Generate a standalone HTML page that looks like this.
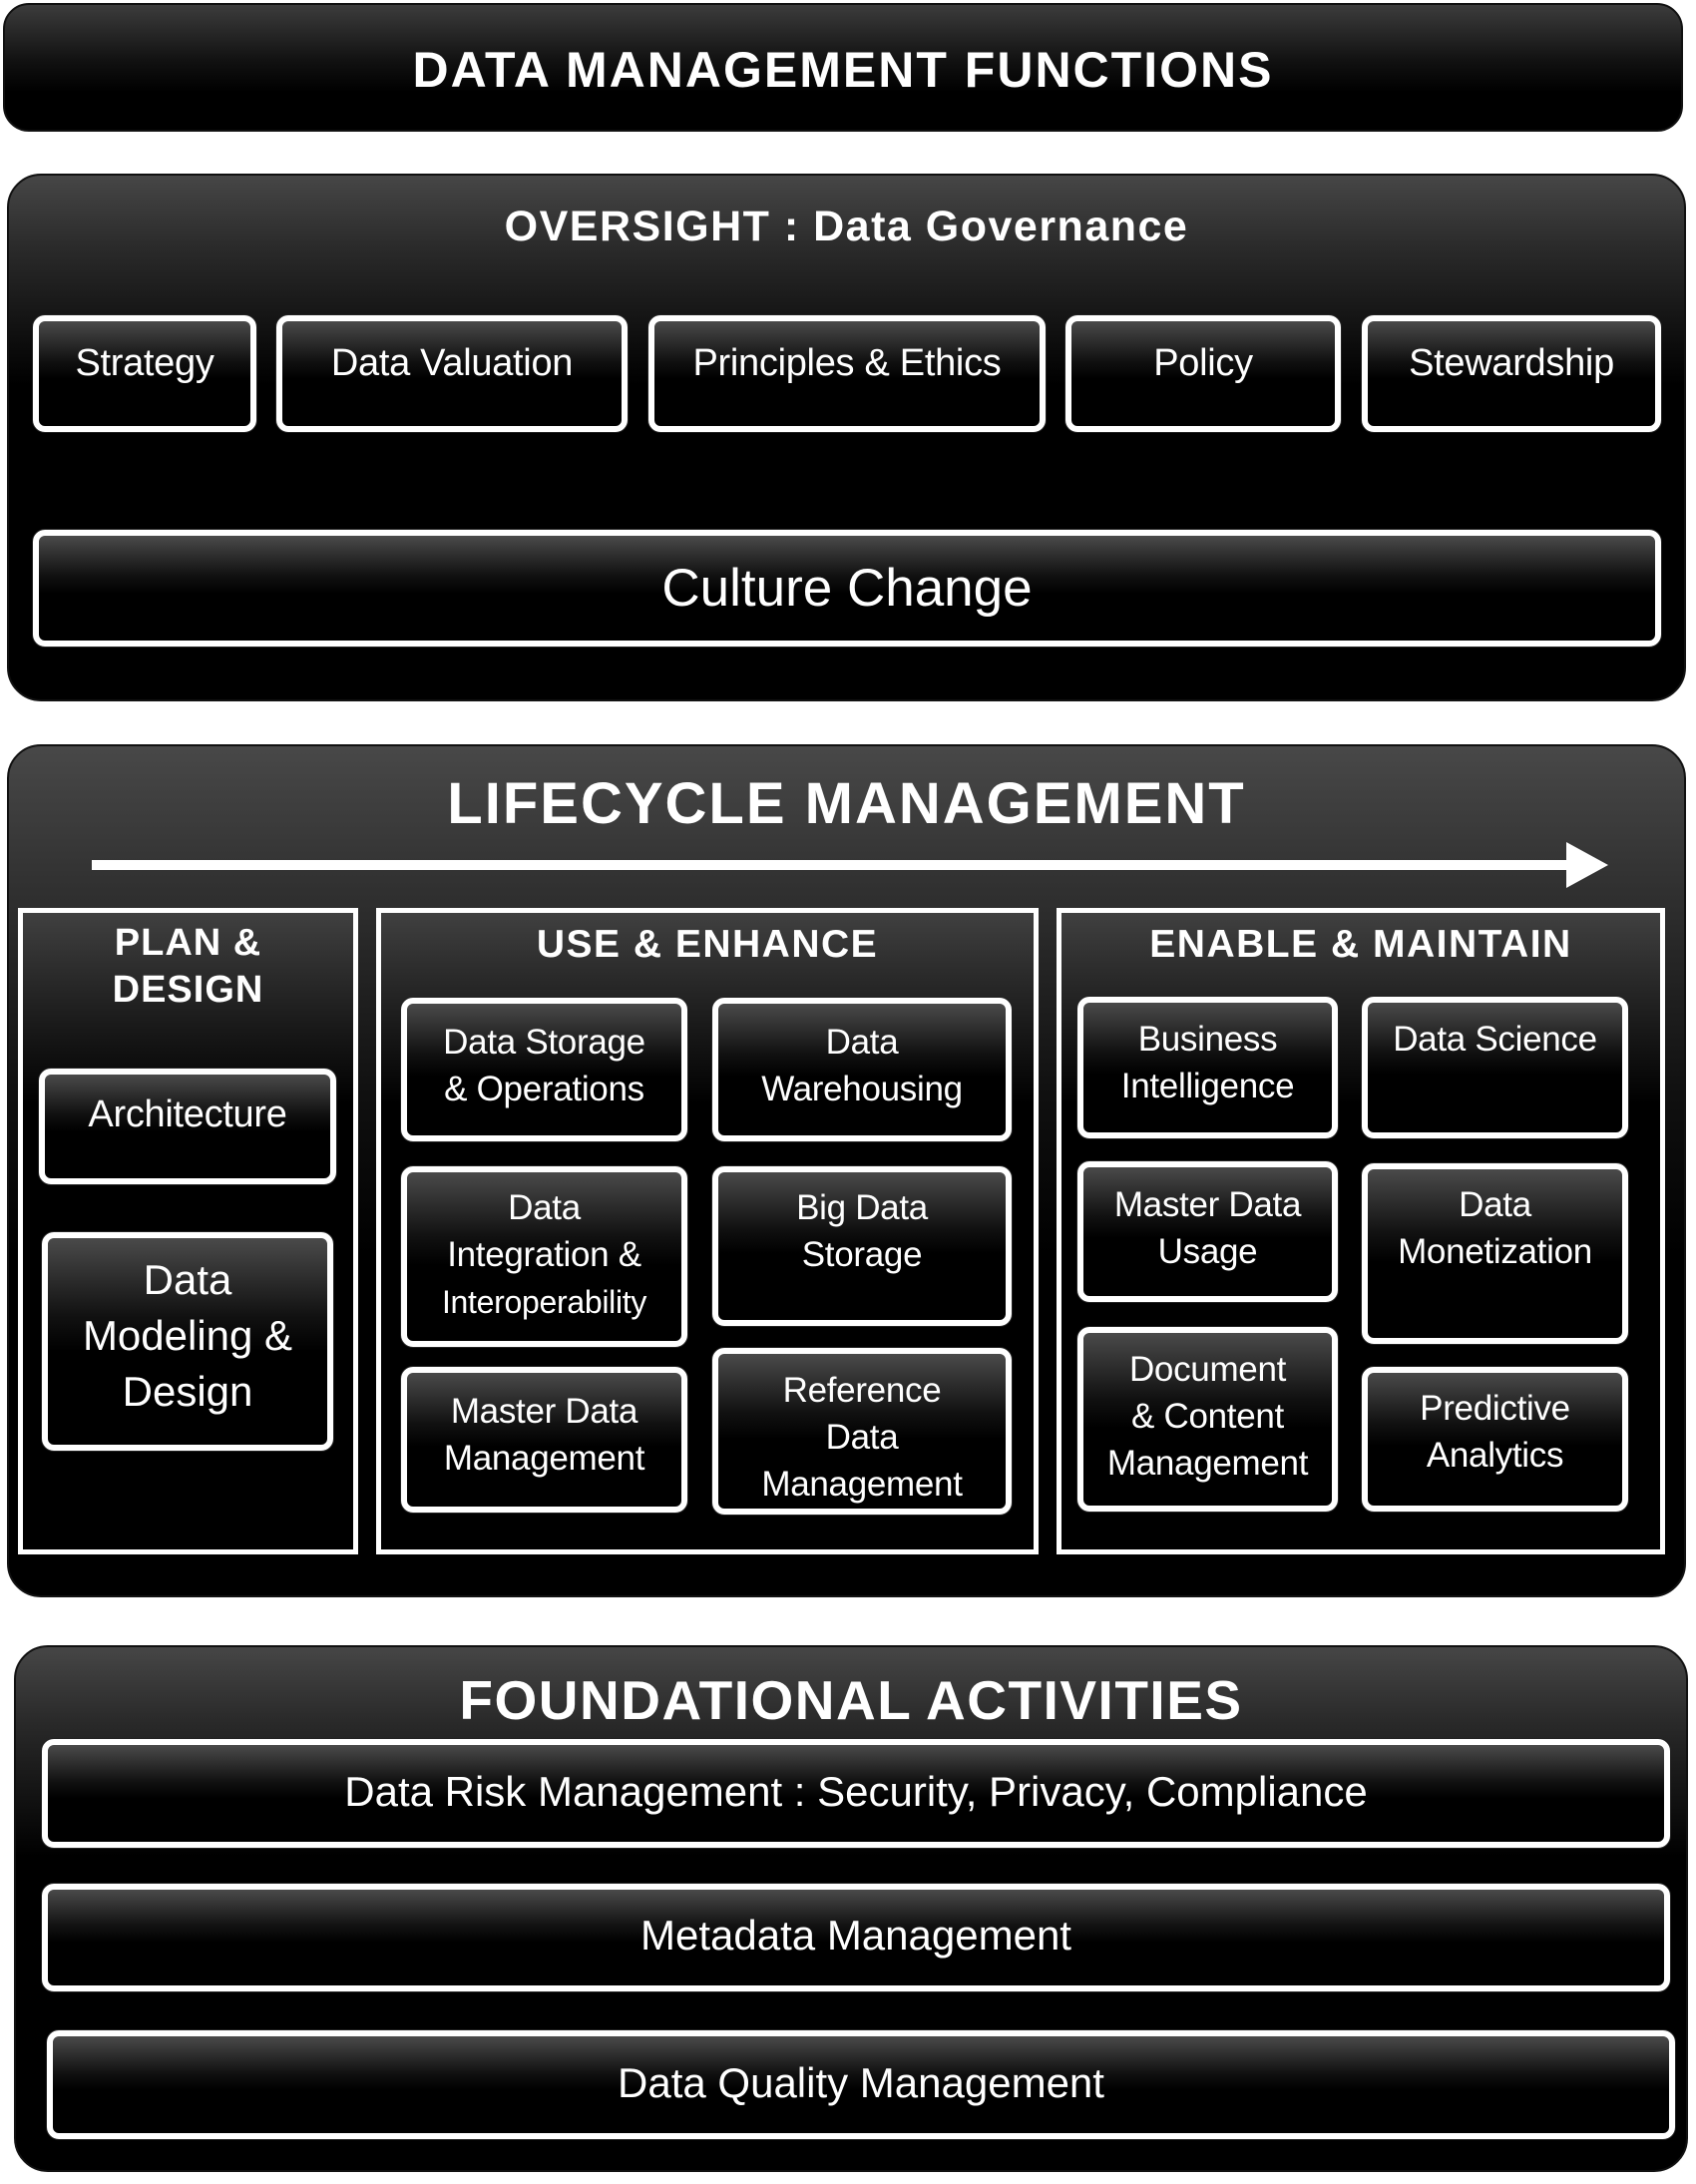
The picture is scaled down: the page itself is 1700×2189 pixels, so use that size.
<!DOCTYPE html>
<html><head><meta charset="utf-8"><style>
*{box-sizing:border-box;margin:0;padding:0}
body{width:1700px;height:2189px;background:#fff;position:relative;overflow:hidden;font-family:"Liberation Sans",sans-serif;color:#fff}
.p{position:absolute;border:2px solid #111;border-radius:34px;background:linear-gradient(#464646 0,#2a2a2a 14%,#000 40%,#000 100%)}
.t{position:absolute;left:0;right:0;text-align:center;font-weight:bold;white-space:nowrap}
.b{position:absolute;border:6px solid #fff;border-radius:12px;background:linear-gradient(#4a4a4a 0,#111 38%,#000 55%);text-align:center;box-shadow:0 0 0 1px #222}
.c{position:absolute;border:5px solid #fff;background:linear-gradient(#404040 0,#2a2a2a 10%,#000 30%)}
.f{display:flex;align-items:center;justify-content:center}
.s37{font-size:35px;line-height:47px;letter-spacing:-0.3px}
.s40{font-size:38px;line-height:48px;letter-spacing:-0.3px}
</style></head><body>

<div class="p f" style="left:3px;top:3px;width:1684px;height:129px;border-radius:26px;background:linear-gradient(#3c3c3c 0,#111 45%,#000 70%)">
<div style="font-weight:bold;font-size:50px;letter-spacing:2px;padding-top:4px">DATA MANAGEMENT FUNCTIONS</div></div>

<div class="p" style="left:7px;top:174px;width:1683px;height:529px">
<div class="t" style="top:24px;font-size:43px;line-height:54px;letter-spacing:1.5px">OVERSIGHT : Data Governance</div></div>
<div class="b s40" style="left:33px;top:316px;width:224px;height:117px;padding-top:18px">Strategy</div>
<div class="b s40" style="left:277px;top:316px;width:352px;height:117px;padding-top:18px">Data Valuation</div>
<div class="b s40" style="left:650px;top:316px;width:398px;height:117px;padding-top:18px">Principles &amp; Ethics</div>
<div class="b s40" style="left:1068px;top:316px;width:276px;height:117px;padding-top:18px">Policy</div>
<div class="b s40" style="left:1365px;top:316px;width:300px;height:117px;padding-top:18px">Stewardship</div>
<div class="b f" style="left:33px;top:531px;width:1632px;height:117px;font-size:53px">Culture Change</div>

<div class="p" style="left:7px;top:746px;width:1683px;height:855px;background:linear-gradient(#484848 0,#2c2c2c 20%,#111 40%,#000 60%)">
<div class="t" style="top:22px;font-size:58px;line-height:72px;letter-spacing:2px">LIFECYCLE MANAGEMENT</div></div>
<svg style="position:absolute;left:0;top:0" width="1700" height="1000"><rect x="92" y="862" width="1484" height="10" fill="#fff"/><polygon points="1570,844 1612,867 1570,890" fill="#fff"/></svg>

<div class="c" style="left:18px;top:910px;width:341px;height:648px"></div>
<div class="t" style="left:18px;width:341px;right:auto;top:922px;font-size:38px;line-height:47px;letter-spacing:1px">PLAN &amp;<br>DESIGN</div>
<div class="b s40" style="left:39px;top:1071px;width:298px;height:116px;padding-top:16px">Architecture</div>
<div class="b" style="left:42px;top:1235px;width:292px;height:219px;padding-top:14px;font-size:42px;line-height:56px">Data<br>Modeling &amp;<br>Design</div>

<div class="c" style="left:377px;top:910px;width:664px;height:648px"></div>
<div class="t" style="left:377px;width:664px;right:auto;top:923px;font-size:39px;line-height:47px;letter-spacing:1.5px">USE &amp; ENHANCE</div>
<div class="b s37" style="left:402px;top:1000px;width:287px;height:144px;padding-top:15px">Data Storage<br>&amp; Operations</div>
<div class="b s37" style="left:714px;top:1000px;width:300px;height:144px;padding-top:15px">Data<br>Warehousing</div>
<div class="b s37" style="left:402px;top:1169px;width:287px;height:181px;padding-top:12px">Data<br>Integration &amp;<br><span style="font-size:32px">Interoperability</span></div>
<div class="b s37" style="left:714px;top:1169px;width:300px;height:160px;padding-top:12px">Big Data<br>Storage</div>
<div class="b s37" style="left:402px;top:1370px;width:287px;height:146px;padding-top:15px">Master Data<br>Management</div>
<div class="b s37" style="left:714px;top:1351px;width:300px;height:167px;padding-top:13px">Reference<br>Data<br>Management</div>

<div class="c" style="left:1059px;top:910px;width:610px;height:648px"></div>
<div class="t" style="left:1059px;width:610px;right:auto;top:923px;font-size:39px;line-height:47px;letter-spacing:1.5px">ENABLE &amp; MAINTAIN</div>
<div class="b s37" style="left:1080px;top:999px;width:261px;height:142px;padding-top:13px">Business<br>Intelligence</div>
<div class="b s37" style="left:1365px;top:999px;width:267px;height:142px;padding-top:13px">Data Science</div>
<div class="b s37" style="left:1080px;top:1164px;width:261px;height:141px;padding-top:14px">Master Data<br>Usage</div>
<div class="b s37" style="left:1365px;top:1166px;width:267px;height:181px;padding-top:12px">Data<br>Monetization</div>
<div class="b s37" style="left:1080px;top:1330px;width:261px;height:185px;padding-top:13px">Document<br>&amp; Content<br>Management</div>
<div class="b s37" style="left:1365px;top:1370px;width:267px;height:145px;padding-top:12px">Predictive<br>Analytics</div>

<div class="p" style="left:14px;top:1649px;width:1678px;height:528px">
<div class="t" style="top:18px;font-size:55px;line-height:70px;letter-spacing:1.5px">FOUNDATIONAL ACTIVITIES</div></div>
<div class="b f" style="left:42px;top:1743px;width:1632px;height:109px;font-size:42px;padding-bottom:4px">Data Risk Management : Security, Privacy, Compliance</div>
<div class="b f" style="left:42px;top:1888px;width:1632px;height:108px;font-size:42px;padding-bottom:4px">Metadata Management</div>
<div class="b f" style="left:47px;top:2035px;width:1632px;height:109px;font-size:42px;padding-bottom:4px">Data Quality Management</div>
</body></html>
